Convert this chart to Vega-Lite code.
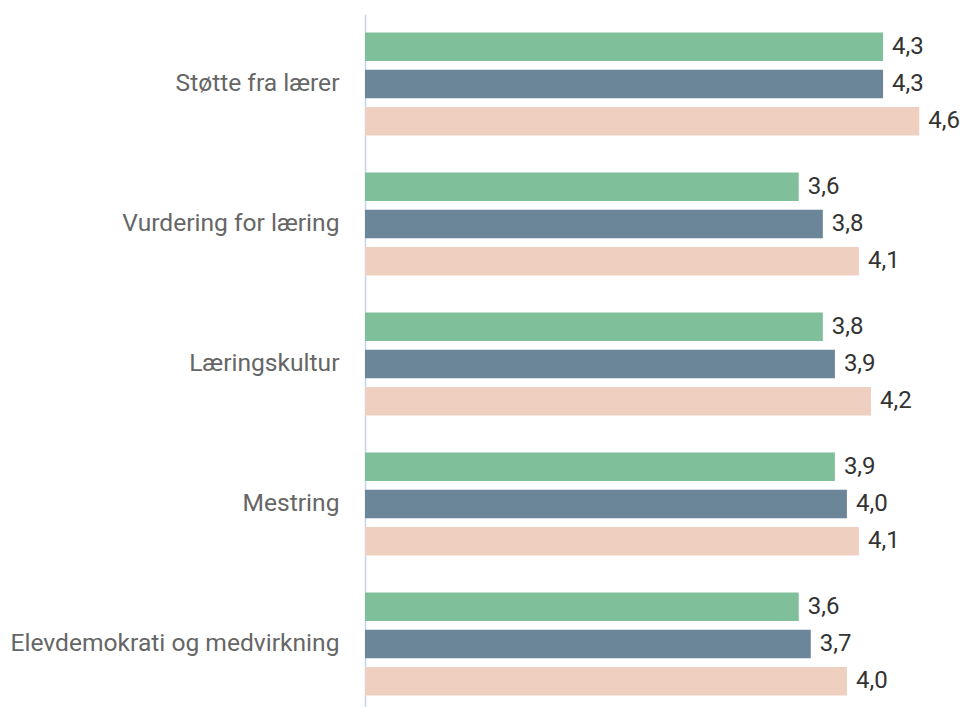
{
  "$schema": "https://vega.github.io/schema/vega-lite/v6.json",
  "width": 600,
  "height": 700,
  "autosize": {"type": "none"},
  "padding": {"left": 365, "top": 14, "right": 0, "bottom": 0},
  "background": "white",
  "config": {
    "view": {"stroke": null},
    "locale": {"number": {"decimal": ",", "thousands": " ", "grouping": [3], "currency": ["", " kr"]}}
  },
  "data": {
    "values": [
      {"omrade": "Støtte fra lærer", "serie": "Serie 1", "verdi": 4.3},
      {"omrade": "Støtte fra lærer", "serie": "Serie 2", "verdi": 4.3},
      {"omrade": "Støtte fra lærer", "serie": "Serie 3", "verdi": 4.6},
      {"omrade": "Vurdering for læring", "serie": "Serie 1", "verdi": 3.6},
      {"omrade": "Vurdering for læring", "serie": "Serie 2", "verdi": 3.8},
      {"omrade": "Vurdering for læring", "serie": "Serie 3", "verdi": 4.1},
      {"omrade": "Læringskultur", "serie": "Serie 1", "verdi": 3.8},
      {"omrade": "Læringskultur", "serie": "Serie 2", "verdi": 3.9},
      {"omrade": "Læringskultur", "serie": "Serie 3", "verdi": 4.2},
      {"omrade": "Mestring", "serie": "Serie 1", "verdi": 3.9},
      {"omrade": "Mestring", "serie": "Serie 2", "verdi": 4.0},
      {"omrade": "Mestring", "serie": "Serie 3", "verdi": 4.1},
      {"omrade": "Elevdemokrati og medvirkning", "serie": "Serie 1", "verdi": 3.6},
      {"omrade": "Elevdemokrati og medvirkning", "serie": "Serie 2", "verdi": 3.7},
      {"omrade": "Elevdemokrati og medvirkning", "serie": "Serie 3", "verdi": 4.0}
    ]
  },
  "encoding": {
    "y": {
      "field": "omrade",
      "type": "nominal",
      "sort": null,
      "scale": {"paddingInner": 0, "paddingOuter": 0},
      "axis": {
        "title": null,
        "ticks": false,
        "domainColor": "#c8d2ea",
        "domainWidth": 1.5,
        "labelFont": "Roboto",
        "labelFontSize": 24.6,
        "labelColor": "#666666",
        "labelPadding": 26,
        "labelLimit": 400
      }
    },
    "yOffset": {
      "field": "serie",
      "type": "nominal",
      "scale": {"paddingInner": 0.236, "paddingOuter": 0.495}
    },
    "x": {
      "field": "verdi",
      "type": "quantitative",
      "scale": {"domain": [0, 4.98], "nice": false},
      "axis": null
    }
  },
  "layer": [
    {
      "mark": {"type": "bar", "cornerRadius": 0},
      "encoding": {
        "color": {
          "field": "serie",
          "type": "nominal",
          "scale": {"domain": ["Serie 1", "Serie 2", "Serie 3"], "range": ["#7fbf9a", "#6b8599", "#efcfc0"]},
          "legend": null
        }
      }
    },
    {
      "mark": {"type": "text", "align": "left", "baseline": "middle", "dx": 9, "font": "Roboto", "fontSize": 24, "color": "#333333"},
      "encoding": {
        "text": {"field": "verdi", "type": "quantitative", "format": ".1f"}
      }
    }
  ]
}
